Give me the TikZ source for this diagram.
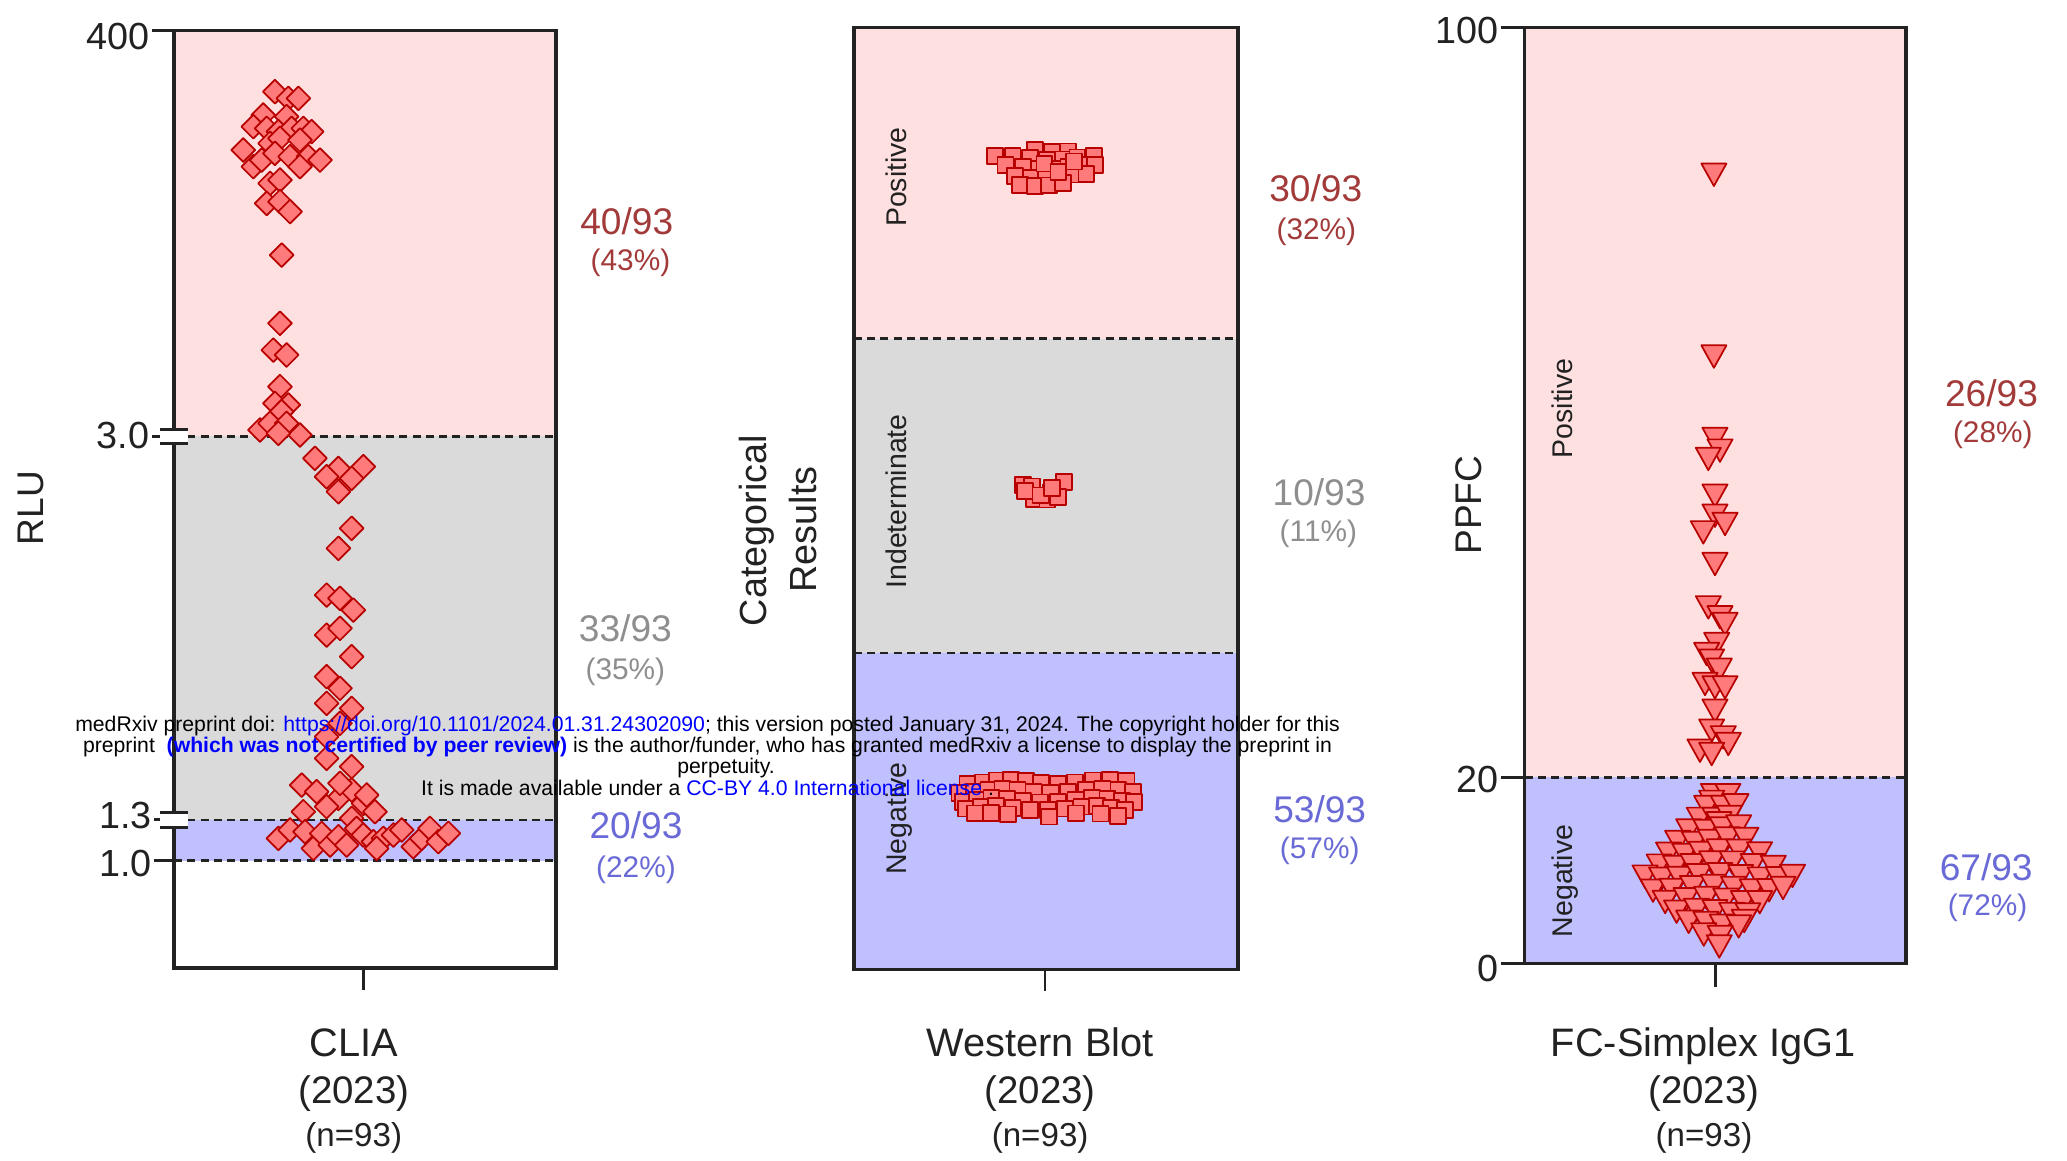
\documentclass[tikz,border=0pt]{standalone}
\usepackage{fontspec}
\setmainfont{Liberation Sans}
\definecolor{posbg}{HTML}{FFE0E0}
\definecolor{indbg}{HTML}{DADADA}
\definecolor{negbg}{HTML}{C0C0FF}
\definecolor{mkfill}{HTML}{FF7A7A}
\definecolor{mkline}{HTML}{B80000}
\definecolor{posT}{HTML}{A33A3A}
\definecolor{indT}{HTML}{8E8E8E}
\definecolor{negT}{HTML}{6A6AD6}
\definecolor{axT}{HTML}{222222}
\definecolor{lnk}{HTML}{0000FF}
\begin{document}
\begin{tikzpicture}[x=1pt,y=-1pt,
  frame/.style={draw=axT,line width=2.7pt},
  thr/.style={draw=axT,line width=2.1pt,dash pattern=on 6pt off 4pt},
  tck/.style={draw=axT,line width=2.2pt},
  brk/.style={draw=axT,line width=2.2pt},
  mk/.style={fill=mkfill,draw=mkline,line width=1.3pt,line join=round},
  cnt/.style={font=\fontsize{28}{30}\selectfont,anchor=base,inner sep=0pt},
  pct/.style={font=\fontsize{22.5}{24}\selectfont,anchor=base,inner sep=0pt},
  tlab/.style={font=\fontsize{28.5}{32}\selectfont,anchor=base east,text=axT,inner sep=0pt},
  alab/.style={font=\fontsize{28}{32}\selectfont,text=axT,rotate=90,anchor=base,inner sep=0pt},
  zlab/.style={font=\fontsize{21.5}{24}\selectfont,text=axT,rotate=90,anchor=base,inner sep=0pt},
  blab/.style={font=\fontsize{30}{34}\selectfont,text=axT,anchor=base,inner sep=0pt},
  ylab/.style={font=\fontsize{29}{34}\selectfont,text=axT,anchor=base,inner sep=0pt},
  nlab/.style={font=\fontsize{25}{30}\selectfont,text=axT,anchor=base,inner sep=0pt},
  wm/.style={font=\fontsize{16}{17}\selectfont,anchor=base,inner sep=0pt},
]
\useasboundingbox (0,0) rectangle (1560,876.2);
\fill[white] (0,0) rectangle (1560,876.2);

% ---------- region fills
\fill[posbg] (131.4,23.1) rectangle (419.5,329.2);
\fill[indbg] (131.4,329.2) rectangle (419.5,618.8);
\fill[negbg] (131.4,618.8) rectangle (419.5,649.7);
\fill[posbg] (644.5,20.8) rectangle (934.3,255.6);
\fill[indbg] (644.5,255.6) rectangle (934.3,492.9);
\fill[negbg] (644.5,492.9) rectangle (934.3,731.6);
\fill[posbg] (1150.6,20.8) rectangle (1438.3,586.6);
\fill[negbg] (1150.6,586.6) rectangle (1438.3,727.0);

% ---------- thresholds
\draw[thr] (131.4,329.2) -- (419.5,329.2);
\draw[thr] (131.4,618.8) -- (419.5,618.8);
\draw[thr] (131.4,649.7) -- (419.5,649.7);
\draw[thr] (644.5,255.6) -- (934.3,255.6);
\draw[thr] (644.5,492.9) -- (934.3,492.9);
\draw[thr] (1150.6,586.6) -- (1438.3,586.6);

% ---------- CLIA diamonds
\foreach \x/\y in {207.5/69.2, 217.6/74.2, 225.2/74.2, 198.7/86.8, 216.3/88.0, 191.2/95.6, 201.3/96.9, 210.1/99.4, 220.1/96.9, 228.9/96.9, 235.2/99.4, 183.6/113.2, 203.8/108.2, 211.3/104.4, 226.4/105.7, 191.2/125.8, 197.5/120.8, 207.5/115.7, 218.9/118.2, 232.7/118.2, 241.5/120.8, 226.4/125.8, 203.8/138.4, 211.3/135.8, 201.3/153.5, 211.3/152.2, 218.9/159.7, 212.6/192.5, 211.3/244.0, 206.3/264.2, 216.3/267.9, 211.3/291.8, 207.5/304.4, 217.6/305.6, 212.6/310.7, 196.2/324.5, 203.8/319.5, 216.3/319.5, 226.4/328.3, 210.1/327.0,
 237.7/345.9, 255.4/353.5, 274.2/352.2, 246.5/359.8, 265.4/361.0, 255.4/371.1, 265.4/398.7, 255.4/413.8, 246.5/449.1, 256.6/451.6, 266.7/460.4, 246.5/479.3, 256.6/474.2, 265.4/495.6, 246.5/510.7, 256.6/519.5, 246.5/530.8, 265.4/534.6, 256.6/545.9, 246.5/556.0, 246.5/572.3, 265.4/578.6, 227.7/592.5, 239.0/597.5, 255.4/602.5, 265.4/596.2, 274.2/606.3, 228.9/612.6, 246.5/608.8, 265.4/617.6, 283.0/612.6, 276.7/600.0, 256.6/591.2,
 210.1/632.7, 218.9/626.4, 230.2/627.7, 236.5/640.3, 242.8/629.0, 249.1/637.8, 255.4/631.5, 261.6/637.8, 269.2/625.2, 274.2/630.2, 281.8/635.2, 289.3/632.7, 296.9/630.2, 303.2/626.4, 311.9/639.0, 318.2/632.7, 324.5/625.2, 330.8/635.2, 338.4/628.9, 284.3/640.3}
  \draw[mk] (\x,\y-9) -- (\x+9,\y) -- (\x,\y+9) -- (\x-9,\y) -- cycle;

% ---------- Western blot squares
\foreach \x/\y in {780/113, 792/113, 804/113,
 752/119, 764/119, 776/119, 788/119, 800/119, 812/119, 826/119,
 758/126, 770/126, 782/126, 794/126, 806/126, 818/126, 828/126,
 764/133, 776/133, 788/133, 800/133, 812/133, 822/133,
 768/139, 780/139, 792/139, 804/139, 786/122, 798/129, 810/122,
 772.3/366.0, 779.9/366.0, 795/371, 805/363.5, 782.4/375, 792.4/376, 800/374.8, 774.8/369.8, 787.4/372.3, 796.2/367.3,
 728/590, 740/590, 752/590, 764/590, 776/590, 788/590, 800/590, 812/590, 824/590, 836/590, 848/590,
 722/597, 734/597, 746/597, 758/597, 770/597, 782/597, 794/597, 806/597, 818/597, 830/597, 842/597, 854/597,
 726/604, 738/604, 750/604, 762/604, 774/604, 786/604, 798/604, 810/604, 822/604, 834/604, 846/604, 856/604,
 730/610, 742/610, 754/610, 766/610, 778/610, 790/610, 802/610, 814/610, 826/610, 838/610, 850/610,
 738/615, 750/615, 762/615, 790/615, 810/615, 830/615, 845/615}
 {
  \pgfmathsetmacro{\xj}{\x+2.2*sin(3*\x+5*\y)}
  \pgfmathsetmacro{\yj}{\y+1.6*cos(5*\x+3*\y)}
  \draw[mk] (\xj-6,\yj-6) rectangle (\xj+6,\yj+6);
 }

% ---------- FC-Simplex triangles
\foreach \x/\y in {1293.5/131.4, 1293.5/268.6, 1294.3/330.8, 1298.1/339.6, 1289.3/345.9, 1294.3/373.6, 1294.3/388.7, 1301.9/395, 1285.5/401.3, 1294.3/425.2, 1289.3/457.9, 1298.1/465.4, 1301.9/470.5, 1295.6/485.6, 1288/493.1, 1291.8/498.1, 1297.6/505, 1286.8/515.7, 1294.3/518.3, 1301.9/518.3, 1294.3/535.9, 1291.8/551, 1300.6/556, 1283/566.1, 1304.4/561, 1291.8/568.6}
  \draw[mk] (\x-9.5,\y-8) -- (\x+9.5,\y-8) -- (\x,\y+9) -- cycle;
\foreach \x/\y in {
 1292/598, 1302/598, 1290/603,
 1286/607, 1298/607, 1308/607,
 1280/616, 1292/616, 1304/616, 1296/620,
 1272/625, 1286/625, 1300/625, 1314/625,
 1264/634, 1278/634, 1292/634, 1306/634, 1320/634,
 1258/643, 1272/643, 1286/643, 1300/643, 1314/643, 1328/643,
 1252/652, 1266/652, 1280/652, 1294/652, 1308/652, 1322/652, 1336/652,
 1242/661, 1256/661, 1270/661, 1284/661, 1298/661, 1312/661, 1326/661, 1340/661, 1352/661,
 1250/670, 1264/670, 1278/670, 1292/670, 1306/670, 1320/670, 1334/670, 1346/670,
 1258/679, 1272/679, 1286/679, 1300/679, 1314/679, 1328/679,
 1264/688, 1278/688, 1292/688, 1306/688, 1320/688, 1318/693,
 1272/697, 1286/697, 1300/697, 1314/697,
 1286/705, 1300/705, 1300/712}
 {
  \pgfmathsetmacro{\xj}{\x+2.5*sin(3*\x+5*\y)}
  \pgfmathsetmacro{\yj}{\y+1.8*cos(5*\x+3*\y)}
  \draw[mk] (\xj-9.5,\yj-8) -- (\xj+9.5,\yj-8) -- (\xj,\yj+9) -- cycle;
 }

% ---------- frames
\draw[frame] (131.4,23.1) rectangle (419.5,730.7);
\draw[frame] (644.5,20.8) rectangle (934.3,731.6);
\draw[frame] (1150.6,20.8) rectangle (1438.3,727.0);

% ---------- CLIA axis, ticks and breaks
\draw[tck] (115,23.1) -- (131.4,23.1);
\fill[white] (120.5,324) rectangle (141.6,334.6);
\draw[tck] (115,329.2) -- (121,329.2);
\draw[brk] (120.5,324) -- (141.6,324);
\draw[brk] (120.5,334.6) -- (141.6,334.6);
\fill[white] (120.5,613.4) rectangle (141.6,624.2);
\draw[tck] (116.5,618.8) -- (121,618.8);
\draw[brk] (120.5,613.4) -- (141.6,613.4);
\draw[brk] (120.5,624.2) -- (141.6,624.2);
\draw[tck] (116.5,649.7) -- (131.4,649.7);
\draw[tck] (274.6,730.7) -- (274.6,747);
\node[tlab] (t400) at (112.9,37.5) {400};
\node[tlab] (t30) at (112.9,338.5) {3.0};
\node[tlab] (t13) at (114.6,625) {1.3};
\node[tlab] (t10) at (114.6,661.5) {1.0};
\node[alab,anchor=center] (rlu) at (23.6,383.4) {RLU};

% ---------- FC axis
\draw[tck] (1132.5,20.8) -- (1150.6,20.8);
\draw[tck] (1132.5,586.6) -- (1150.6,586.6);
\draw[tck] (1132.5,727.0) -- (1150.6,727.0);
\draw[tck] (1294.4,727.0) -- (1294.4,745);
\draw[tck] (788.7,731.6) -- (788.7,748);
\node[tlab] (t100) at (1130.8,33) {100};
\node[tlab] (t20) at (1130.8,598.3) {20};
\node[tlab] (t0) at (1130.8,740.7) {0};
\node[alab,anchor=center] (ppfc) at (1108.5,381.2) {PPFC};

% ---------- Categorical results axis
\node[alab,font=\fontsize{28.5}{32}\selectfont] (catA) at (578.6,400.5) {Categorical};
\node[alab,font=\fontsize{28.5}{32}\selectfont] (catB) at (616,399.5) {Results};

% ---------- zone labels
\node[zlab] (wbpos) at (684.5,133.6) {Positive};
\node[zlab] (wbind) at (684.5,378.4) {Indeterminate};
\node[zlab] (wbneg) at (684.5,617.9) {Negative};
\node[zlab] (fcpos) at (1186.5,308.3) {Positive};
\node[zlab] (fcneg) at (1186.5,664.9) {Negative};

% ---------- counts
\node[cnt,text=posT] (c1a) at (473,177) {40/93};
\node[pct,text=posT] (c1b) at (475.8,204) {(43\%)};
\node[cnt,text=indT] (c2a) at (472,484.4) {33/93};
\node[pct,text=indT] (c2b) at (472,513) {(35\%)};
\node[cnt,text=negT] (c3a) at (480,633) {20/93};
\node[pct,text=negT] (c3b) at (480,662) {(22\%)};
\node[cnt,text=posT] (c4a) at (993,151.7) {30/93};
\node[pct,text=posT] (c4b) at (993.5,181) {(32\%)};
\node[cnt,text=indT] (c5a) at (995.5,381.4) {10/93};
\node[pct,text=indT] (c5b) at (995,408.5) {(11\%)};
\node[cnt,text=negT] (c6a) at (996,621) {53/93};
\node[pct,text=negT] (c6b) at (996,648) {(57\%)};
\node[cnt,text=posT] (c7a) at (1503,306.7) {26/93};
\node[pct,text=posT] (c7b) at (1504,334) {(28\%)};
\node[cnt,text=negT] (c8a) at (1499,664.3) {67/93};
\node[pct,text=negT] (c8b) at (1500,691) {(72\%)};

% ---------- bottom labels
\node[blab] (n1) at (267,797) {CLIA};
\node[ylab] (y1) at (267,833) {(2023)};
\node[nlab] (m1) at (267,865) {(n=93)};
\node[blab] (n2) at (785,797) {Western Blot};
\node[ylab] (y2) at (785,833) {(2023)};
\node[nlab] (m2) at (785,865) {(n=93)};
\node[blab] (n3) at (1285.5,797) {FC-Simplex IgG1};
\node[ylab] (y3) at (1286,833) {(2023)};
\node[nlab] (m3) at (1286,865) {(n=93)};

% ---------- medRxiv overlay
\node[wm] (wm1) at (534,552) {medRxiv preprint doi: \textcolor{lnk}{https://doi.org/10.1101/2024.01.31.24302090}; this version posted January 31, 2024. The copyright holder for this};
\node[wm] (wm2) at (534,568) {preprint\ \ \textcolor{lnk}{\bfseries (which was not certified by peer review)} is the author/funder, who has granted medRxiv a license to display the preprint in};
\node[wm] (wm3) at (548,584) {perpetuity.};
\node[wm] (wm4) at (534,600) {It is made available under a \textcolor{lnk}{CC-BY 4.0 International license} .};
\end{tikzpicture}
\end{document}
